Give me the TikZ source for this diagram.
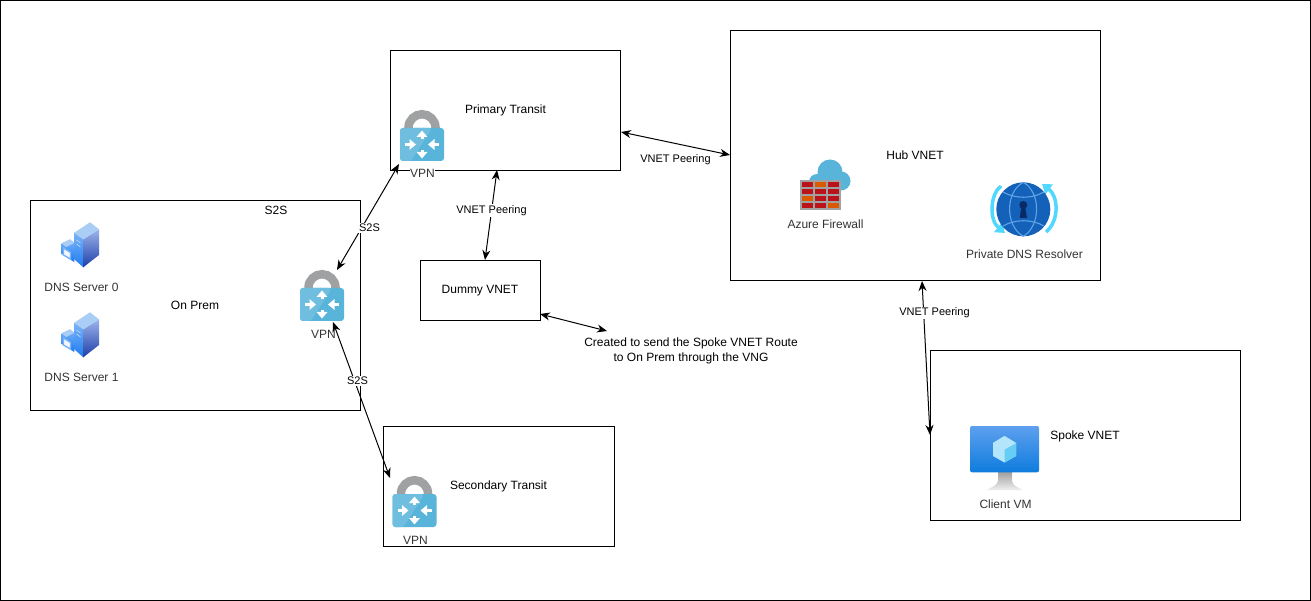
\documentclass[tikz,border=0pt]{standalone}
\usepackage{fontspec}
\setmainfont{Liberation Sans}
\usetikzlibrary{arrows.meta}
\definecolor{lockblue}{HTML}{59B4D9}
\definecolor{locklight}{HTML}{6FBEDF}
\definecolor{lockgray}{HTML}{A0A1A2}
\definecolor{brickred}{HTML}{BA141A}
\definecolor{brickorange}{HTML}{DD5900}
\definecolor{labeltext}{HTML}{333333}
\definecolor{srvtop}{HTML}{A9CDF5}
\definecolor{srvlight}{HTML}{79B4F8}
\definecolor{srvmid}{HTML}{1E7BF0}
\definecolor{srvperi}{HTML}{9DB4EC}
\definecolor{srvdeep}{HTML}{1F3FA8}
\definecolor{vmtop}{HTML}{5EA0EF}
\definecolor{vmbot}{HTML}{0E7CDD}
\definecolor{rescyan}{HTML}{50D8FF}
\definecolor{globe}{HTML}{1361B8}
\definecolor{globeline}{HTML}{5FA3E8}
\definecolor{keyhole}{HTML}{0A2A66}
\tikzset{
  x=1pt,y=-1pt,
  box/.style={draw=black,line width=1pt,fill=white,inner sep=0pt,outer sep=0pt,anchor=north west},
  lbl/.style={font=\fontsize{12}{15}\selectfont,text=black,inner sep=0.5pt},
  iconlbl/.style={font=\fontsize{12}{15}\selectfont,text=labeltext,inner sep=0.5pt},
  edgelbl/.style={font=\fontsize{11}{13}\selectfont,text=black,fill=white,inner sep=1pt},
  link/.style={draw=black,line width=1pt,{Stealth[length=10pt,width=8pt]}-{Stealth[length=10pt,width=8pt]}},
  whitearrow/.style={draw=white,line width=3pt,-{Triangle[length=6.5pt,width=10.5pt]}},
  vpnicon/.pic={
    \draw[lockgray,line width=8.5pt] (8.5,22)--(8.5,17.5) .. controls (8.5,10) and (15,4.2) .. (22,4.2) .. controls (29,4.2) and (35.5,10) .. (35.5,17.5)--(35.5,22);
    \fill[lockblue,rounded corners=3pt] (0,18) rectangle (44,51);
    \fill[locklight,rounded corners=3pt] (0,18)--(32,18)--(11,51)--(0,51)--cycle;
    \draw[whitearrow] (22,29)--(22,20.5);
    \draw[whitearrow] (22,40)--(22,48.5);
    \draw[whitearrow] (5,34.5)--(16,34.5);
    \draw[whitearrow] (39,34.5)--(28,34.5);
  },
  servericon/.pic={
    \shade[top color=srvlight,bottom color=srvmid] (34.3,22.7)--(43.3,29.3)--(43.3,57.3)--(34.3,49.3)--cycle;
    \shade[top color=srvperi,bottom color=srvdeep] (43.3,29.3)--(59,19.3)--(59,45)--(43.3,57.3)--cycle;
    \fill[srvtop] (34.3,22.7)--(50,12.3)--(59,19.3)--(43.3,29.3)--cycle;
    \draw[white!70!srvmid,line width=0.7pt] (36.5,30)--(40.5,33) (36.5,34)--(40.5,37);
    \shade[top color=srvlight,bottom color=srvmid] (21.7,33.3)--(30,29.5)--(34.3,33)--(34.3,52)--(31,50)--(21.7,44)--cycle;
    \fill[srvtop] (21.7,33.3)--(30,29.5)--(34.3,33)--(26,37)--cycle;
    \draw[srvlight,fill=white!85!srvtop,line width=1.4pt] (23.5,38)--(30.5,42.5)--(30.5,49)--(23.5,45)--cycle;
  },
  firewallicon/.pic={
    \fill[lockblue] (50,22) circle[radius=12.5pt] (37,32) circle[radius=8pt] (61,31) circle[radius=9.5pt];
    \fill[lockblue] (37,30) rectangle (61,40.5);
    \fill[lockgray] (20,30) rectangle (60.7,60);
    \foreach \ry/\rh/\ca/\cb/\cc in {32.3/4.6/brickred/brickorange/brickred,
      39/4.6/brickred/brickred/brickred,
      45.7/5/brickorange/brickred/brickred,
      52.7/5/brickred/brickred/brickorange}{
      \fill[\ca] (21.7,\ry) rectangle ++(11.6,\rh);
      \fill[\cb] (35,\ry) rectangle ++(11,\rh);
      \fill[\cc] (47.7,\ry) rectangle ++(11.3,\rh);
    }
  },
  resolvericon/.pic={
    \draw[rescyan,line width=3.5pt,-{Triangle[length=9pt,width=12pt]}] (21,16) .. controls (10,24) and (9,50) .. (25,63);
    \draw[rescyan,line width=3.5pt,-{Triangle[length=9pt,width=12pt]}] (66,62) .. controls (80,50) and (78,26) .. (62,14);
    \fill[globe] (43.3,39.3) circle[radius=27pt];
    \draw[globeline,line width=1.1pt] (43.3,12.3) .. controls (25,22) and (25,56) .. (43.3,66.3)
      (43.3,12.3) .. controls (61,22) and (61,56) .. (43.3,66.3)
      (23,22) .. controls (35,29) and (52,29) .. (64,22)
      (23,56) .. controls (35,49) and (52,49) .. (64,56);
    \fill[keyhole] (43.3,35) circle[radius=4pt];
    \fill[keyhole] (41.5,36)--(45,36)--(47,48)--(39.7,48)--cycle;
  },
  vmicon/.pic={
    \shade[top color=gray!75,bottom color=gray!12] (38,57)--(52,57)--(52,66) .. controls (53,71) and (58,72) .. (62,75)--(27,75) .. controls (31,72) and (37,71) .. (38,66)--cycle;
    \shade[top color=vmtop,bottom color=vmbot,rounded corners=2pt] (10,11) rectangle (79,57.3);
    \fill[cyan!30!white] (44.5,21) -- (56,28) -- (56,41) -- (44.5,47.5) -- (33,41) -- (33,28) -- cycle;
    \fill[cyan!60!white] (44.5,34.5) -- (56,28) -- (56,41) -- (44.5,47.5) -- cycle;
    \fill[white!70!cyan] (44.5,21) -- (56,28) -- (44.5,34.5) -- (33,28) -- cycle;
  }
}
\begin{document}
\begin{tikzpicture}
\useasboundingbox (0,0) rectangle (1311,601);
\path[draw=black,line width=1pt,fill=white] (0.5,0.5) rectangle (1310.5,600.5);
% boxes
\node[box,minimum width=330pt,minimum height=210pt] (onprem) at (30.5,200.5) {};
\node[box,minimum width=230pt,minimum height=120pt] (primary) at (390.5,50.5) {};
\node[box,minimum width=370pt,minimum height=250pt] (hub) at (730.5,30.5) {};
\node[box,minimum width=120pt,minimum height=60pt] (dummy) at (420.5,260.5) {};
\node[box,minimum width=231pt,minimum height=120pt] (secondary) at (383.5,426.5) {};
\node[box,minimum width=310pt,minimum height=170pt] (spoke) at (930.5,350.5) {};
% icons
\pic at (40,210) {servericon};
\pic at (40,300) {servericon};
\pic at (300,270) {vpnicon};
\pic at (400,110) {vpnicon};
\pic at (392.5,476) {vpnicon};
\pic at (780,150) {firewallicon};
\pic at (980,170) {resolvericon};
\pic at (960,415) {vmicon};
% connector ends
\coordinate (pvS) at (399,164);
\coordinate (opN) at (337,270);
\coordinate (opS) at (333,322);
\coordinate (svN) at (390,478);
\coordinate (prE) at (621,132);
\coordinate (hubW) at (730,155);
\coordinate (prS) at (497,170);
\coordinate (dmN) at (485,260);
\coordinate (dmE) at (540,314);
\coordinate (noteW) at (607,331);
\coordinate (hubS) at (922,281);
\coordinate (spW) at (930,435);
% connectors
\draw[link] (pvS) -- (opN);
\draw[link] (opS) -- (svN);
\draw[link] (prE) -- (hubW);
\draw[link] (prS) -- (dmN);
\draw[link] (dmE) -- (noteW);
\draw[link] (hubS) -- (spW);
% connector labels
\node[edgelbl] (l1) at (369.5,228) {S2S};
\node[edgelbl] (l2) at (357.5,381) {S2S};
\node[edgelbl] (l3) at (675.5,159.5) {VNET Peering};
\node[edgelbl] (l4) at (491.5,210.5) {VNET Peering};
\node[edgelbl] (l5) at (934.5,313) {VNET Peering};
% labels
\node[lbl] (t1) at (195,305.5) {On Prem};
\node[lbl] (t2) at (276,210.5) {S2S};
\node[lbl] (t3) at (505.5,110.8) {Primary Transit};
\node[lbl] (t4) at (480,290.5) {Dummy VNET};
\node[lbl] (t5) at (915,155.5) {Hub VNET};
\node[lbl] (t6) at (498.5,486.8) {Secondary Transit};
\node[lbl] (t7) at (1085,436) {Spoke VNET};
\node[lbl,align=center] (t8) at (691,350.5) {Created to send the Spoke VNET Route\\to On Prem through the VNG};
\node[iconlbl] (i1) at (81.5,287.5) {DNS Server 0};
\node[iconlbl] (i2) at (81.5,377.5) {DNS Server 1};
\node[iconlbl] (i3) at (323.5,334.5) {VPN};
\node[iconlbl,fill=white] (i4) at (422.5,173.5) {VPN};
\node[iconlbl,fill=white] (i5) at (415.5,540) {VPN};
\node[iconlbl] (i6) at (825.5,224.5) {Azure Firewall};
\node[iconlbl] (i7) at (1024.5,254.5) {Private DNS Resolver};
\node[iconlbl] (i8) at (1005.5,504.5) {Client VM};
\end{tikzpicture}
\end{document}
